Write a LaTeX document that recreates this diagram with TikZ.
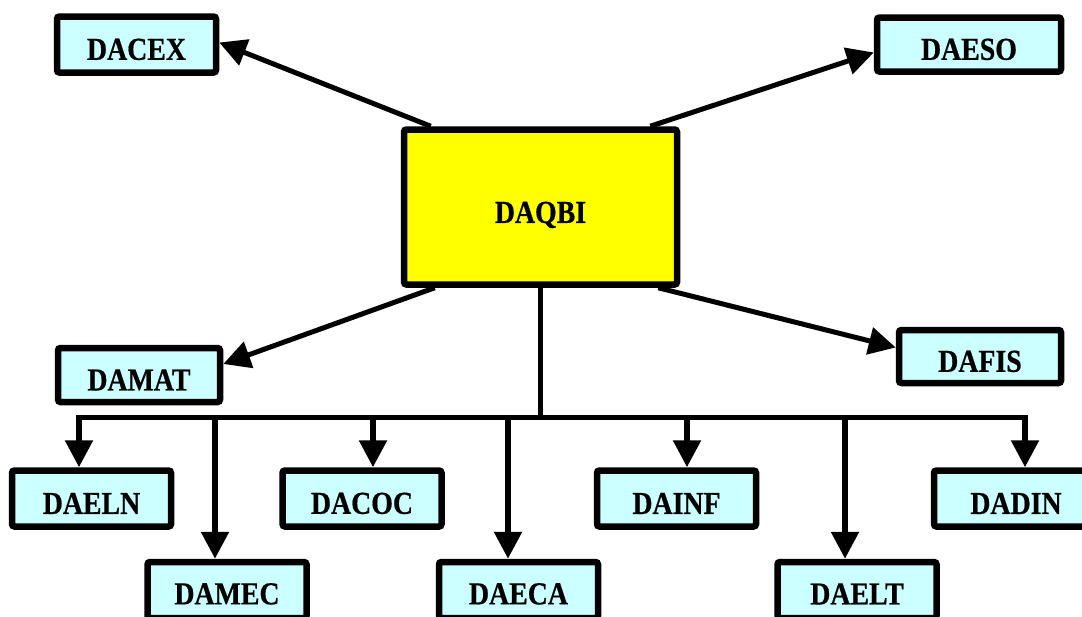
\documentclass[tikz,border=0pt]{standalone}
\usepackage{fontspec}
\newfontfamily\boxfont{Liberation Serif}[FakeStretch=0.87,FakeBold=0.6]
\usetikzlibrary{arrows.meta}
\definecolor{boxcyan}{HTML}{CCFFFF}
\definecolor{hubyellow}{HTML}{FFFF00}
\tikzset{
  unit/.style={draw=black, line width=6.5pt, fill=boxcyan, rounded corners=2.5pt,
    minimum width=159pt, minimum height=56pt, inner sep=0pt, text height=31pt,
    font={\boxfont\bfseries\fontsize{32}{36}\selectfont}},
  hub/.style={unit, fill=hubyellow, minimum width=273pt, minimum height=155pt, text height=37pt},
  link/.style={line width=5pt, -{Triangle[length=27pt,width=27pt]}},
  rail/.style={line width=5.5pt, line cap=rect, line join=miter},
  drop/.style={rail, -{Triangle[length=27pt,width=27pt]}},
}
\begin{document}
\begin{tikzpicture}[x=1pt, y=-1pt]
\clip (0,0) rectangle (1082,616);

% central department and its neighbours
\node[hub] (DAQBI) at (540.5,207) {DAQBI};
\node[unit] (DACEX) at (136.5,44.5) {DACEX};
\node[unit, minimum width=184pt, minimum height=54pt] (DAESO) at (969,44.5) {DAESO};
\node[unit, minimum width=162pt, minimum height=54pt] (DAMAT) at (139,375) {DAMAT};
\node[unit, minimum width=162pt, minimum height=53pt] (DAFIS) at (980,356.5) {DAFIS};

% upper row below the bus
\node[unit] (DAELN) at (91.5,498.5) {DAELN};
\node[unit] (DACOC) at (362,498.5) {DACOC};
\node[unit] (DAINF) at (676.5,498.5) {DAINF};
\node[unit, minimum width=164pt] (DADIN) at (1016,498.5) {DADIN};

% lower row below the bus, running past the bottom edge
\node[unit, text height=29pt] (DAMEC) at (227,590) {DAMEC};
\node[unit, text height=29pt] (DAECA) at (518.5,590) {DAECA};
\node[unit, text height=29pt] (DAELT) at (857,590) {DAELT};

% diagonal links
\draw[link] ([xshift=30pt]DAQBI.north west) -- ([yshift=2pt]DACEX.east);
\draw[link] ([xshift=-30pt]DAQBI.north east) -- ([yshift=-8pt]DAESO.west);
\draw[link] ([xshift=34pt]DAQBI.south west) -- ([yshift=11pt]DAMAT.east);
\draw[link] ([xshift=-22pt]DAQBI.south east) -- ([yshift=9pt]DAFIS.west);

% bus and drops
\coordinate (bus) at (0,417.5);
\coordinate (eln) at ([xshift=-12.5pt]DAELN.north);
\coordinate (mec) at ([xshift=-12pt]DAMEC.north);
\coordinate (coc) at ([xshift=11pt]DACOC.north);
\coordinate (eca) at ([xshift=-10.5pt]DAECA.north);
\coordinate (inf) at ([xshift=10.5pt]DAINF.north);
\coordinate (elt) at ([xshift=-12pt]DAELT.north);
\coordinate (din) at ([xshift=9pt]DADIN.north);

\draw[rail] (DAQBI.south) -- (DAQBI.south |- bus);
\draw[drop] (din |- bus) -- (eln |- bus) -- (eln);
\draw[drop] (din |- bus) -- (din);
\draw[drop] (mec |- bus) -- (mec);
\draw[drop] (coc |- bus) -- (coc);
\draw[drop] (eca |- bus) -- (eca);
\draw[drop] (inf |- bus) -- (inf);
\draw[drop] (elt |- bus) -- (elt);
\end{tikzpicture}
\end{document}
